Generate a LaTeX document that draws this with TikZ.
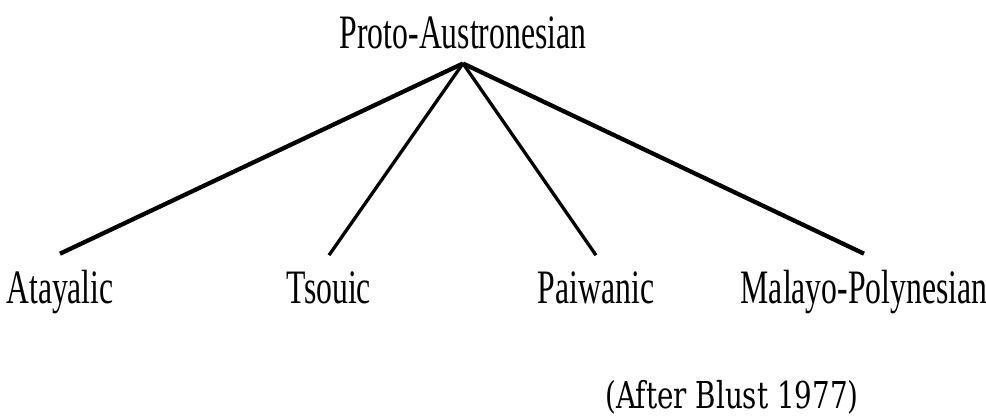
\documentclass[tikz,border=0pt]{standalone}
\usepackage{fontspec}
\setmainfont{Liberation Serif}[FakeStretch=0.66]
\newfontfamily\notefont{DejaVu Serif}[FakeStretch=0.75]
\usepackage{tikz}

\tikzset{
	lang/.style={anchor=base, inner xsep=0pt, inner ysep=16pt, outer sep=0pt, font=\fontsize{48pt}{50pt}\selectfont},
	branch/.style={line width=4.3pt, color=black},
	twig/.style={line width=3.3pt, color=black},
}

\begin{document}
\begin{tikzpicture}[x=1pt, y=-1pt]
	\useasboundingbox (0,0) rectangle (986,416);
	\node[lang, inner ysep=15pt] (proto) at (463,48) {Proto-Austronesian};
	\node[lang] (atayalic) at (60,303) {Atayalic};
	\node[lang] (tsouic) at (329,303) {Tsouic};
	\node[lang] (paiwanic) at (596,303) {Paiwanic};
	\node[lang] (malayo) at (864,303) {Malayo-Polynesian};
	\draw[branch] (proto.south) -- (atayalic.north);
	\draw[twig] (proto.south) -- (tsouic.north);
	\draw[twig] (proto.south) -- (paiwanic.north);
	\draw[branch] (proto.south) -- (malayo.north);
	\node[anchor=base, inner sep=0pt, font=\notefont\fontsize{37pt}{40pt}\selectfont] (source) at (732,408) {(After Blust 1977)};
\end{tikzpicture}
\end{document}
